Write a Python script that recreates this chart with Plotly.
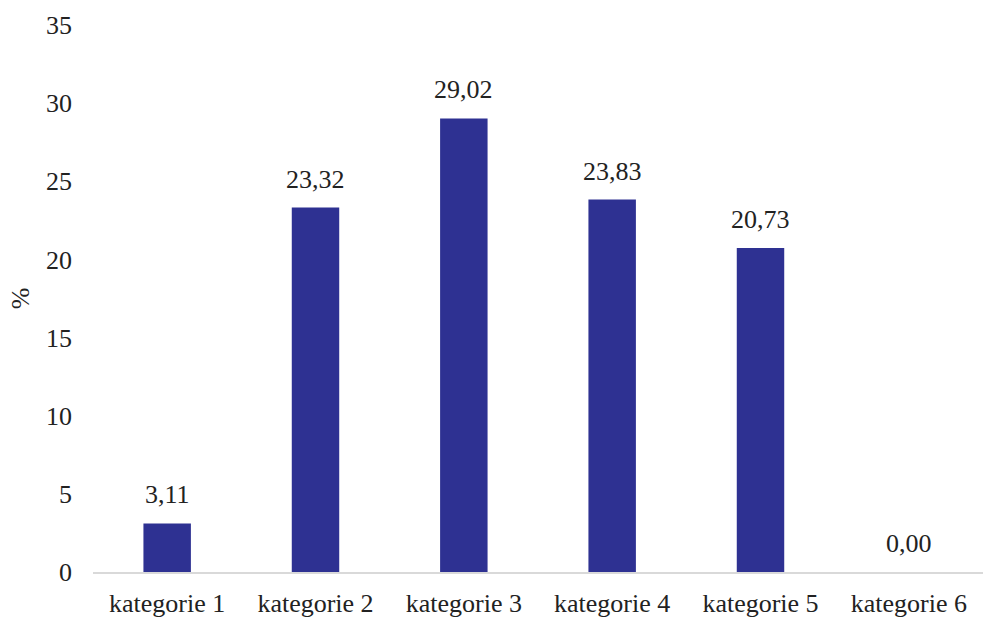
import plotly.graph_objects as go

categories = ["kategorie 1", "kategorie 2", "kategorie 3", "kategorie 4", "kategorie 5", "kategorie 6"]
values = [3.11, 23.32, 29.02, 23.83, 20.73, 0.00]
y_ticks = [0, 5, 10, 15, 20, 25, 30, 35]

FONT = "Times New Roman, Liberation Serif, DejaVu Serif"
TXT = "#222222"

fig = go.Figure(go.Bar(
    x=categories,
    y=values,
    marker=dict(color="#2E3192", line=dict(width=0)),
    width=0.32,
))

for c, v in zip(categories, values):
    fig.add_annotation(
        x=c, y=v, text=f"{v:.2f}".replace(".", ","),
        showarrow=False, yanchor="bottom", yshift=12,
        font=dict(family=FONT, size=26, color=TXT),
    )

fig.update_layout(
    width=983, height=618,
    margin=dict(l=93, r=0, t=25, b=44),
    paper_bgcolor="white", plot_bgcolor="white",
    font=dict(family=FONT, size=26, color=TXT),
    showlegend=False,
)
fig.update_xaxes(
    showline=True, linecolor="#D9D9D9", linewidth=2,
    showgrid=False, ticks="", ticklabelstandoff=7,
    tickfont=dict(family=FONT, size=26, color=TXT),
)
fig.update_yaxes(
    range=[0, 35], tickvals=y_ticks, showgrid=False, zeroline=False,
    showline=False, ticks="", ticklabelstandoff=20,
    tickfont=dict(family=FONT, size=26, color=TXT),
    title=dict(text="%", font=dict(family=FONT, size=26, color=TXT), standoff=8),
)

fig.write_html("out.html")
